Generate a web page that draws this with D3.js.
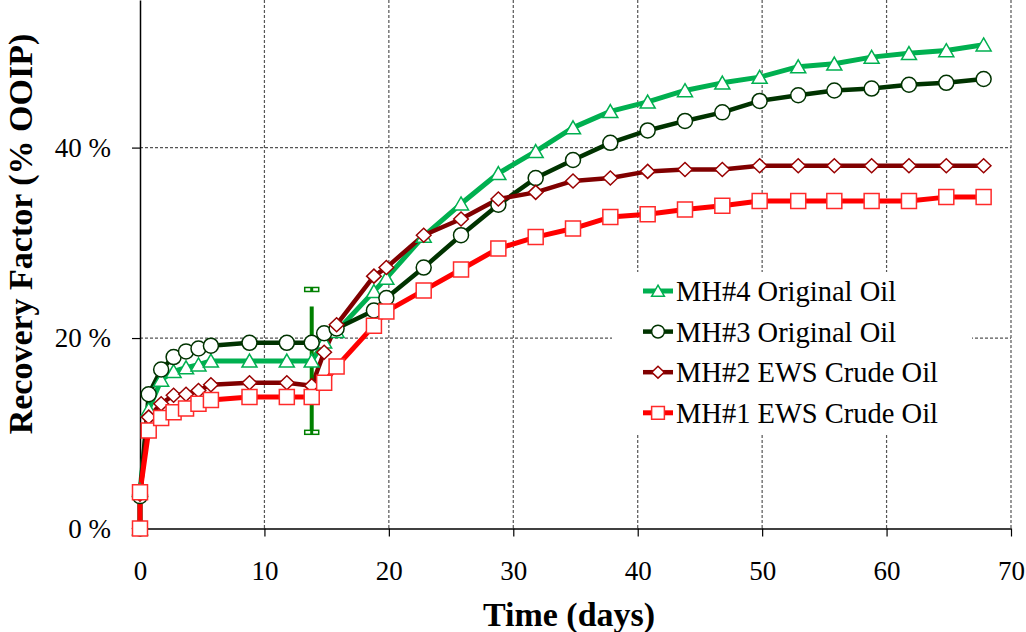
<!DOCTYPE html>
<html>
<head>
<meta charset="utf-8">
<script src="https://cdn.jsdelivr.net/npm/d3@7"></script>
<style>
body { margin: 0; background: #fff; }
svg { display: block; }
</style>
</head>
<body>
<div id="chart"></div>
<script>
// sampling times shared by all four runs (days)
var days = [0, 0, 0.7, 1.7, 2.7, 3.7, 4.7, 5.7, 8.8, 11.8, 13.8, 14.8, 15.8, 18.8, 19.8,
    22.8, 25.8, 28.8, 31.8, 34.8, 37.8, 40.8, 43.8, 46.8, 49.8, 52.9, 55.8, 58.8, 61.8, 64.8, 67.8];

// recovery factor, % OOIP
var mh4 = [0, 4.0, 12.5, 15.6, 16.5, 16.9, 17.2, 17.6, 17.6, 17.6, 17.6, 19.6, 20.7, 24.9, 26.3,
    30.7, 34.1, 37.3, 39.6, 42.1, 43.8, 44.8, 46.0, 46.8, 47.4, 48.5, 48.8, 49.5, 49.9, 50.2, 50.8];
var mh3 = [0, 3.4, 14.1, 16.7, 18.0, 18.6, 18.9, 19.2, 19.5, 19.5, 19.5, 20.5, 21.0, 22.9, 24.2,
    27.4, 30.8, 34.0, 36.8, 38.7, 40.5, 41.8, 42.8, 43.7, 44.9, 45.5, 46.0, 46.2, 46.6, 46.8, 47.2];
var mh2 = [0, 3.6, 11.7, 13.1, 14.0, 14.1, 14.5, 15.1, 15.3, 15.3, 15.0, 18.5, 21.4, 26.5, 27.4,
    30.8, 32.5, 34.6, 35.3, 36.5, 36.8, 37.5, 37.7, 37.7, 38.1, 38.1, 38.1, 38.1, 38.1, 38.1, 38.1];
var mh1 = [0, 3.8, 10.3, 11.6, 12.2, 12.6, 13.1, 13.5, 13.8, 13.8, 13.8, 15.3, 17.0, 21.3, 22.8,
    25.0, 27.2, 29.4, 30.6, 31.5, 32.7, 33.0, 33.5, 33.9, 34.4, 34.4, 34.4, 34.4, 34.4, 34.8, 34.8];

var seriesNames = ['MH#4 Original Oil', 'MH#3 Original Oil', 'MH#2 EWS Crude Oil', 'MH#1 EWS Crude Oil'];

// single error bar on MH#4
var errorDay = [13.8];
var errorMean = [17.6];
var errorHalf = [7.5];

var xTicks = [0, 10, 20, 30, 40, 50, 60, 70];
var yTicks = [0, 20, 40];

var serif = 'Liberation Serif';

var series = [
    { name: seriesNames[0], values: mh4, line: '#00b050', edge: '#00b050', width: 5, shape: 'triangle' },
    { name: seriesNames[1], values: mh3, line: '#003300', edge: '#003300', width: 4.5, shape: 'circle' },
    { name: seriesNames[2], values: mh2, line: '#800000', edge: '#990000', width: 4.5, shape: 'diamond' },
    { name: seriesNames[3], values: mh1, line: '#ff0000', edge: '#ff2a2a', width: 5, shape: 'square' }
];

function markerPath(shape, s) {
    var r = 7.5 * s;
    if (shape == 'triangle') {
        return 'M0,' + (-6.8 * s) + 'L' + r + ',' + (6.2 * s) + 'L' + (-r) + ',' + (6.2 * s) + 'Z';
    }
    if (shape == 'square') {
        return 'M' + (-r) + ',' + (-r) + 'h' + (2 * r) + 'v' + (2 * r) + 'h' + (-2 * r) + 'Z';
    }
    if (shape == 'diamond') {
        return 'M0,' + (-7 * s) + 'L' + (7.3 * s) + ',0L0,' + (7 * s) + 'L' + (-7.3 * s) + ',0Z';
    }
    return 'M' + r + ',0A' + r + ',' + r + ' 0 1,1 ' + (-r) + ',0A' + r + ',' + r + ' 0 1,1 ' + r + ',0Z';
}

var width = 1026, height = 632;

var svg = d3.select('#chart').append('svg')
    .attr('width', width)
    .attr('height', height)
    .attr('font-family', serif);

var x = d3.scaleLinear().domain([0, 70]).range([140, 1011]);
var y = d3.scaleLinear().domain([0, 55.5]).range([528.5, 0]);

// grid
svg.append('g').selectAll('line')
    .data(xTicks.slice(1))
    .enter().append('line')
    .attr('x1', function(d) { return x(d); })
    .attr('x2', function(d) { return x(d); })
    .attr('y1', y(55.5))
    .attr('y2', y(0))
    .attr('stroke', '#555')
    .attr('stroke-width', 1.2)
    .attr('stroke-dasharray', '3,2');

svg.append('g').selectAll('line')
    .data(yTicks.slice(1))
    .enter().append('line')
    .attr('x1', x(0))
    .attr('x2', x(70))
    .attr('y1', function(d) { return y(d); })
    .attr('y2', function(d) { return y(d); })
    .attr('stroke', '#555')
    .attr('stroke-width', 1.2)
    .attr('stroke-dasharray', '3,2');

// axes
var xAxis = svg.append('g')
    .attr('transform', 'translate(0,' + y(0) + ')')
    .call(d3.axisBottom(x).tickValues(xTicks).tickSize(8).tickSizeOuter(0).tickPadding(24));

var yAxis = svg.append('g')
    .attr('transform', 'translate(' + x(0) + ',0)')
    .call(d3.axisLeft(y).tickValues(yTicks).tickSize(8).tickSizeOuter(0).tickPadding(21)
        .tickFormat(function(d) { return d + ' %'; }));

[xAxis, yAxis].forEach(function(a) {
    a.attr('font-family', serif).attr('font-size', 27);
    a.select('.domain').attr('stroke', '#000').attr('stroke-width', 1.5);
    a.selectAll('.tick line').attr('stroke', '#000').attr('stroke-width', 1.2);
    a.selectAll('.tick text').attr('fill', '#000');
});

svg.append('text')
    .attr('x', 569)
    .attr('y', 626)
    .attr('text-anchor', 'middle')
    .attr('font-size', '34px')
    .attr('font-weight', 'bold')
    .text('Time (days)');

svg.append('text')
    .attr('transform', 'translate(32,234) rotate(-90)')
    .attr('text-anchor', 'middle')
    .attr('font-size', '34px')
    .attr('font-weight', 'bold')
    .text('Recovery Factor (% OOIP)');

// lines first, then error bar, then markers on top
var line = d3.line()
    .x(function(d, i) { return x(days[i]); })
    .y(function(d) { return y(d); });

series.forEach(function(s) {
    svg.append('path')
        .datum(s.values)
        .attr('fill', 'none')
        .attr('stroke', s.line)
        .attr('stroke-width', s.width)
        .attr('stroke-linejoin', 'round')
        .attr('d', line);
});

errorDay.forEach(function(d, i) {
    var ex = x(d),
        top = y(errorMean[i] + errorHalf[i]),
        bottom = y(errorMean[i] - errorHalf[i]);

    svg.append('line')
        .attr('x1', ex).attr('x2', ex)
        .attr('y1', top + 17).attr('y2', bottom)
        .attr('stroke', '#008000')
        .attr('stroke-width', 4);

    [top, bottom].forEach(function(cy) {
        svg.append('rect')
            .attr('x', ex - 7).attr('y', cy - 2)
            .attr('width', 14).attr('height', 4)
            .attr('fill', '#fff')
            .attr('stroke', '#008000')
            .attr('stroke-width', 1.5);
        svg.append('rect')
            .attr('x', ex - 1.5).attr('y', cy - 2)
            .attr('width', 3).attr('height', 4)
            .attr('fill', '#008000');
    });
});

series.forEach(function(s) {
    svg.append('g').selectAll('path')
        .data(s.values)
        .enter().append('path')
        .attr('transform', function(d, i) { return 'translate(' + x(days[i]) + ',' + y(d) + ')'; })
        .attr('d', markerPath(s.shape, 1))
        .attr('fill', '#fff')
        .attr('stroke', s.edge)
        .attr('stroke-width', 1.5);
});

// legend
var legend = svg.append('g');

legend.append('rect')
    .attr('x', 612).attr('y', 272)
    .attr('width', 360).attr('height', 161)
    .attr('fill', '#fff');

series.forEach(function(s, i) {
    var base = 301 + i * 40.6;

    legend.append('line')
        .attr('x1', 643).attr('x2', 673)
        .attr('y1', base - 10).attr('y2', base - 10)
        .attr('stroke', s.line)
        .attr('stroke-width', s.width);

    legend.append('path')
        .attr('transform', 'translate(658,' + (base - 10) + ')')
        .attr('d', markerPath(s.shape, 0.85))
        .attr('fill', '#fff')
        .attr('stroke', s.edge)
        .attr('stroke-width', 1.5);

    legend.append('text')
        .attr('x', 676)
        .attr('y', base)
        .attr('font-size', '28.5px')
        .attr('fill', '#000')
        .text(s.name);
});
</script>
</body>
</html>
